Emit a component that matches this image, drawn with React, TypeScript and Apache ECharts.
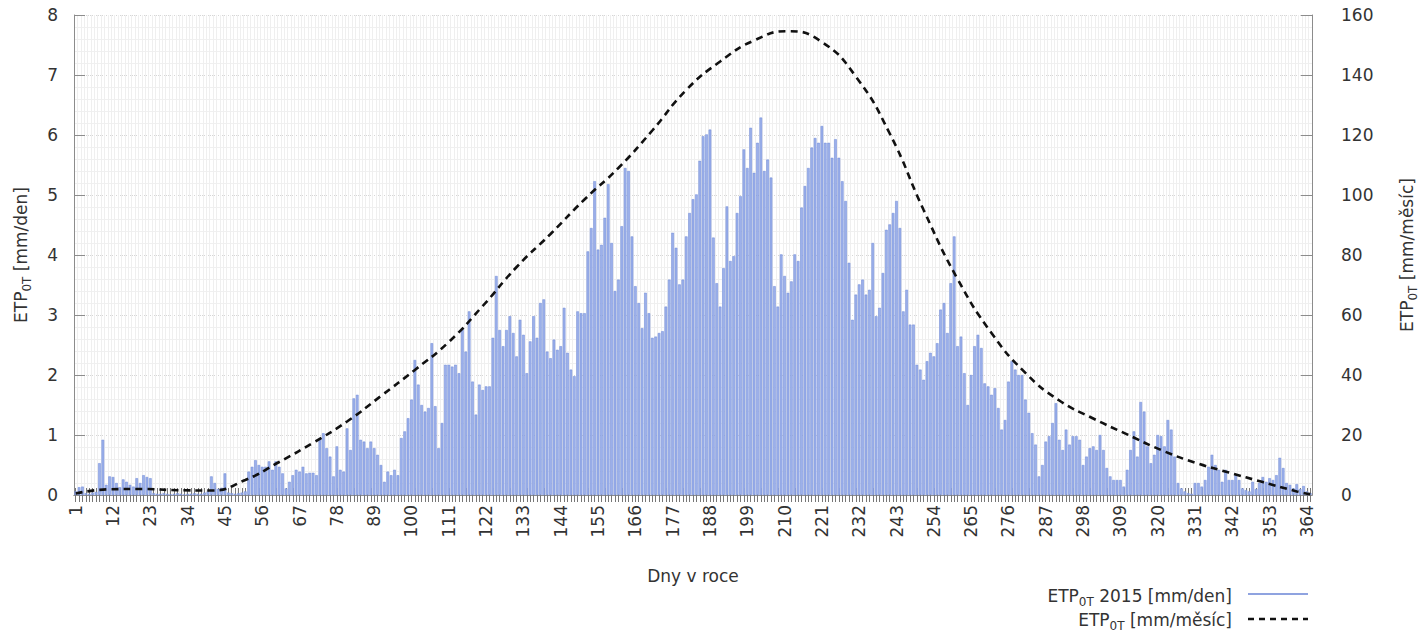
import React, { useEffect, useRef } from "react";
import * as echarts from "echarts";

// Day of year categories (2015, 365 days)
const dayLabels: string[] = Array.from({ length: 365 }, (_, i) => String(i + 1));

// Daily ETP0T 2015 [mm/den], day 1..365
const etpDaily: number[] = [
  0.06, 0.13, 0.14, 0.03, 0.02, 0.04, 0.05, 0.53, 0.92, 0.17,
  0.31, 0.3, 0.2, 0.13, 0.26, 0.22, 0.17, 0.14, 0.28, 0.2,
  0.33, 0.3, 0.28, 0.03, 0.02, 0.02, 0.03, 0.02, 0.01, 0.02,
  0.03, 0.02, 0.01, 0.02, 0.02, 0.03, 0.02, 0.02, 0.04, 0.06,
  0.31, 0.2, 0.1, 0.12, 0.36, 0.04, 0.03, 0.02, 0.03, 0.04,
  0.06, 0.39, 0.47, 0.58, 0.5, 0.47, 0.47, 0.56, 0.42, 0.56,
  0.47, 0.36, 0.11, 0.22, 0.33, 0.42, 0.39, 0.47, 0.36, 0.37,
  0.37, 0.33, 0.95, 1.03, 0.78, 0.64, 0.31, 0.81, 0.42, 0.39,
  1.11, 0.75, 1.61, 1.67, 0.92, 0.89, 0.78, 0.89, 0.78, 0.67,
  0.5, 0.22, 0.39, 0.33, 0.42, 0.33, 0.95, 1.06, 1.28, 1.59,
  2.25, 1.84, 1.5, 1.39, 1.45, 2.53, 1.48, 0.78, 1.2, 2.17,
  2.17, 2.14, 2.17, 2.03, 2.78, 2.39, 3.06, 1.89, 1.34, 1.84,
  1.75, 1.81, 1.81, 2.62, 3.65, 2.75, 2.48, 2.75, 2.98, 2.7,
  2.31, 2.92, 2.67, 2.03, 2.56, 2.98, 2.62, 3.2, 3.26, 2.39,
  2.28, 2.59, 2.42, 2.48, 3.12, 2.37, 2.09, 1.98, 3.06, 3.03,
  3.03, 4.06, 4.45, 5.23, 4.09, 4.17, 4.62, 5.18, 4.2, 3.4,
  3.59, 4.48, 5.45, 5.4, 4.31, 3.48, 3.2, 2.78, 3.37, 3.03,
  2.62, 2.64, 2.7, 2.73, 3.14, 3.59, 4.37, 4.12, 3.51, 3.59,
  4.31, 4.7, 4.93, 5.01, 5.57, 5.98, 6.01, 6.09, 4.29, 3.53,
  3.14, 3.78, 4.81, 3.9, 3.98, 4.7, 4.98, 5.76, 5.45, 6.12,
  5.37, 5.87, 6.29, 5.4, 5.59, 5.29, 3.48, 3.14, 4.01, 3.65,
  3.37, 3.56, 4.01, 3.9, 4.79, 5.15, 5.45, 5.79, 5.95, 5.87,
  6.15, 5.87, 5.87, 5.62, 5.93, 5.62, 5.23, 4.9, 3.87, 2.92,
  3.34, 3.51, 3.59, 3.34, 3.42, 4.2, 2.98, 3.12, 3.7, 4.42,
  4.51, 4.7, 4.9, 4.45, 3.06, 3.42, 2.84, 2.84, 2.17, 2.09,
  1.92, 2.23, 2.37, 2.31, 2.53, 3.09, 3.2, 2.7, 3.53, 4.31,
  2.48, 2.64, 2.03, 1.5, 2.0, 2.48, 2.67, 2.45, 1.86, 1.81,
  1.67, 1.78, 1.45, 1.09, 1.25, 1.89, 2.23, 2.09, 2.0, 2.0,
  1.59, 1.37, 1.03, 0.84, 0.31, 0.5, 0.89, 0.98, 1.2, 1.53,
  0.92, 0.75, 1.09, 0.84, 0.98, 0.98, 0.92, 0.5, 0.64, 0.78,
  0.81, 0.75, 1.0, 0.75, 0.45, 0.31, 0.25, 0.25, 0.25, 0.14,
  0.42, 0.75, 1.06, 0.64, 1.55, 1.39, 0.81, 0.53, 0.67, 1.0,
  0.98, 0.81, 1.25, 1.09, 0.64, 0.2, 0.11, 0.06, 0.03, 0.02,
  0.2, 0.2, 0.14, 0.25, 0.47, 0.67, 0.5, 0.42, 0.22, 0.42,
  0.25, 0.25, 0.33, 0.25, 0.11, 0.08, 0.06, 0.22, 0.1, 0.2,
  0.3, 0.22, 0.28, 0.25, 0.33, 0.62, 0.45, 0.2, 0.17, 0.11,
  0.18, 0.1, 0.15, 0.06, 0.03,
];

const curveDays: number[] = [
  1, 11, 21, 31, 41, 51, 61, 71, 81, 91, 101, 111, 121, 131, 141, 151, 161,
  171, 181, 191, 201, 211, 221, 231, 241, 251, 261, 271, 281, 291, 301, 311,
  321, 331, 341, 351, 361, 365,
];
const curveMonthly: number[] = [
  0.5, 1.9, 2.0, 1.6, 1.5, 5.0, 11, 17.4, 24.5, 33, 41.7, 51, 63, 76, 87,
  98.5, 109, 121.5, 135, 144.5, 151.5, 154.6, 151, 139.5, 120.5, 95, 72, 54,
  40.7, 31.5, 25.5, 20.2, 15, 10.8, 7.5, 4.3, 1.2, 0.3,
];

const leftTicks = { min: 0, max: 8, interval: 1 };
const rightTicks = { min: 0, max: 160, interval: 20 };

const FONT = "DejaVu Sans";
const TXT = "#333333";
const AX = "#8c8c8c";

const richAxis = {
  a: { fontSize: 17, fontFamily: FONT, color: TXT, lineHeight: 26, verticalAlign: "middle" },
  s: { fontSize: 12, fontFamily: FONT, color: TXT, lineHeight: 12, verticalAlign: "top", padding: [13, 0, 0, 0] },
};
const richGraphic = {
  a: { fontSize: 17, fontFamily: FONT, fill: TXT, color: TXT, lineHeight: 26, verticalAlign: "middle" },
  s: { fontSize: 12, fontFamily: FONT, fill: TXT, color: TXT, lineHeight: 12, verticalAlign: "top", padding: [13, 0, 0, 0] },
};

export default function App() {
  const ref = useRef<HTMLDivElement>(null);

  useEffect(() => {
    if (!ref.current) return;
    const chart = echarts.init(ref.current, null, { renderer: "svg" });

    const option: any = {
      animation: false,
      backgroundColor: "#ffffff",
      textStyle: { fontFamily: FONT },
      grid: { left: 70, right: 111, top: 15, bottom: 142, containLabel: false },
      xAxis: [
        {
          type: "category",
          data: dayLabels,
          position: "bottom",
          boundaryGap: true,
          axisLine: { show: true, lineStyle: { color: AX, width: 1 } },
          axisTick: { show: true, interval: 0, alignWithLabel: true, length: 7, lineStyle: { color: "#777" } },
          axisLabel: { interval: 10, rotate: 90, fontSize: 17, color: TXT, margin: 10, fontFamily: FONT },
          splitLine: { show: true, interval: 0, lineStyle: { color: "#efefef", width: 1 } },
          name: "Dny v roce",
          nameLocation: "middle",
          nameGap: 72,
          nameTextStyle: { fontSize: 17, color: TXT, fontFamily: FONT },
        },
        {
          type: "category",
          data: dayLabels,
          position: "top",
          boundaryGap: true,
          axisLine: { show: true, lineStyle: { color: AX, width: 1 } },
          axisTick: { show: true, interval: 0, alignWithLabel: true, length: 7, lineStyle: { color: "#777" } },
          axisLabel: { show: false },
          splitLine: { show: false },
        },
      ],
      yAxis: [
        {
          type: "value",
          position: "left",
          min: leftTicks.min,
          max: leftTicks.max,
          interval: leftTicks.interval,
          axisLine: { show: true, lineStyle: { color: AX, width: 1 } },
          axisTick: { show: true, inside: true, length: 11, lineStyle: { color: AX } },
          axisLabel: { fontSize: 17, color: TXT, margin: 16, fontFamily: FONT },
          splitLine: { show: true, lineStyle: { color: "#d6d6d6", type: "dotted", width: 1 } },
          minorTick: { show: false, splitNumber: 5 },
          minorSplitLine: { show: true, lineStyle: { color: "#f0f0f0", width: 1 } },
          name: "{a|ETP}{s|0T}{a| [mm/den]}",
          nameLocation: "middle",
          nameRotate: 90,
          nameGap: 40,
          nameTextStyle: { fontSize: 17, color: TXT, fontFamily: FONT, rich: richAxis },
        },
        {
          type: "value",
          position: "right",
          min: rightTicks.min,
          max: rightTicks.max,
          interval: rightTicks.interval,
          axisLine: { show: true, lineStyle: { color: AX, width: 1 } },
          axisTick: { show: true, inside: true, length: 11, lineStyle: { color: AX } },
          axisLabel: { fontSize: 17, color: TXT, margin: 29, fontFamily: FONT },
          splitLine: { show: false },
          name: "{a|ETP}{s|0T}{a| [mm/měsíc]}",
          nameLocation: "middle",
          nameRotate: 90,
          nameGap: 82,
          nameTextStyle: { fontSize: 17, color: TXT, fontFamily: FONT, rich: richAxis },
        },
      ],
      series: [
        {
          name: "ETP0T 2015 [mm/den]",
          type: "bar",
          xAxisIndex: 0,
          yAxisIndex: 0,
          data: etpDaily,
          barWidth: "78%",
          itemStyle: { color: "#9cb0ea", borderColor: "#6d88d8", borderWidth: 0.5 },
        },
        {
          name: "ETP0T [mm/měsíc]",
          type: "line",
          xAxisIndex: 0,
          yAxisIndex: 1,
          data: curveDays.map((d, i) => [d - 1, curveMonthly[i]]),
          smooth: 0.5,
          symbol: "none",
          lineStyle: { color: "#111111", width: 2.6, type: [7, 5] },
          z: 5,
        },
      ],
      graphic: [
        {
          type: "text",
          x: 1232,
          y: 596,
          style: {
            text: "{a|ETP}{s|0T}{a| 2015 [mm/den]}",
            rich: richGraphic,
            align: "right",
            verticalAlign: "middle",
            textAlign: "right",
            textVerticalAlign: "middle",
            fill: TXT,
          },
        },
        {
          type: "line",
          shape: { x1: 1248, y1: 594, x2: 1308, y2: 594 },
          style: { stroke: "#6a85d6", lineWidth: 1.5 },
        },
        {
          type: "text",
          x: 1232,
          y: 620,
          style: {
            text: "{a|ETP}{s|0T}{a| [mm/měsíc]}",
            rich: richGraphic,
            align: "right",
            verticalAlign: "middle",
            textAlign: "right",
            textVerticalAlign: "middle",
            fill: TXT,
          },
        },
        {
          type: "line",
          shape: { x1: 1248, y1: 619, x2: 1308, y2: 619 },
          style: { stroke: "#111111", lineWidth: 2.5, lineDash: [6, 5] },
        },
      ],
    };

    chart.setOption(option);
    return () => {
      chart.dispose();
    };
  }, []);

  return (
    <div
      ref={ref}
      style={{ position: "fixed", left: 0, top: 0, width: 1427, height: 637, background: "#fff" }}
    />
  );
}
